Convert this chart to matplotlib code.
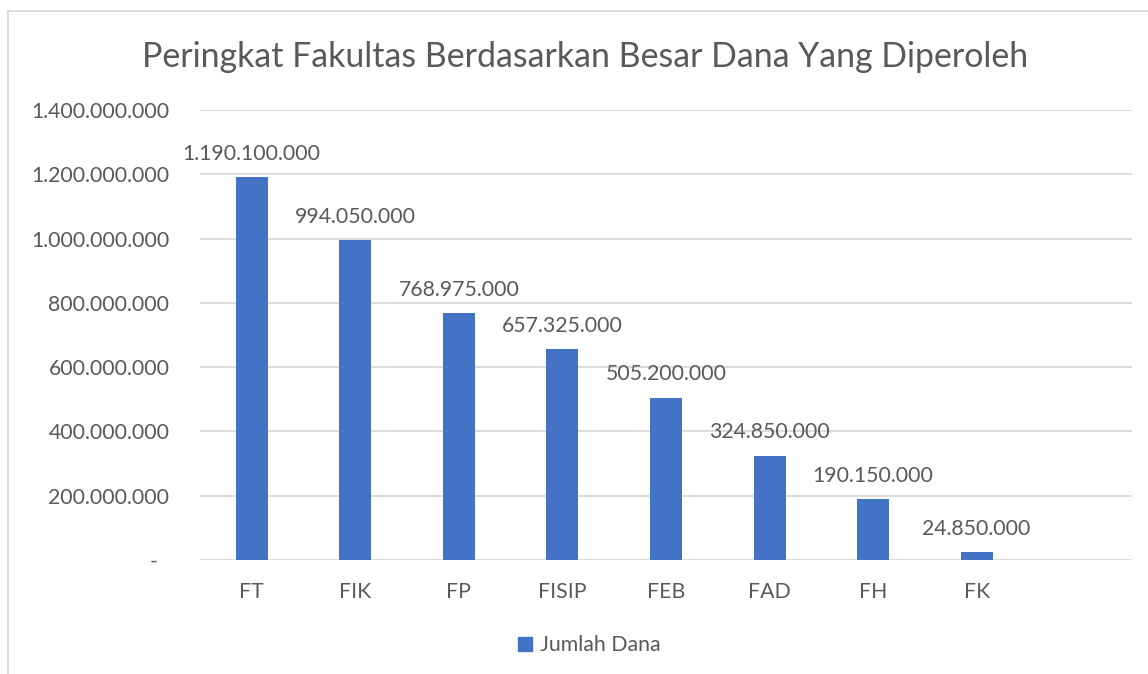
import matplotlib
matplotlib.use("Agg")
import matplotlib.pyplot as plt
from matplotlib.lines import Line2D
from matplotlib.ticker import FuncFormatter

# data
fakultas = ["FT", "FIK", "FP", "FISIP", "FEB", "FAD", "FH", "FK"]
jumlah_dana = [1190100000, 994050000, 768975000, 657325000, 505200000, 324850000, 190150000, 24850000]
y_ticks = [0, 200000000, 400000000, 600000000, 800000000, 1000000000, 1200000000, 1400000000]

FONT = "Lato"
TXT = "#595959"
GRID = "#D9D9D9"
BAR = "#4472C4"
FS = 15.3


def titik(v):
    # Excel accounting style: dots as thousand separator, zero as dash
    if v == 0:
        return "-  "
    return f"{int(v):,}".replace(",", ".")


fig = plt.figure(figsize=(11.48, 6.74), dpi=100, facecolor="white")
ax = fig.add_axes([200 / 1148, 114 / 674, 932 / 1148, 450 / 674])

x = list(range(len(fakultas)))
ax.bar(x, jumlah_dana, width=0.31, color=BAR, zorder=3)

for xi, v in zip(x, jumlah_dana):
    ax.annotate(titik(v), (xi, v), xytext=(0, 9.5), textcoords="offset points",
                ha="center", va="bottom", fontsize=FS, color=TXT, family=FONT)

ax.set_xlim(-0.5, len(fakultas) + 0.5)
ax.set_ylim(0, 1400000000)
ax.set_yticks(y_ticks)
ax.yaxis.set_major_formatter(FuncFormatter(lambda v, p: titik(v)))
ax.set_xticks(x)
ax.set_xticklabels(fakultas)

ax.grid(axis="y", color=GRID, linewidth=1.3, zorder=0)
for s in ax.spines.values():
    s.set_visible(False)
ax.tick_params(axis="both", length=0, labelsize=FS, labelcolor=TXT)
ax.tick_params(axis="y", pad=22)
ax.tick_params(axis="x", pad=16)
for lbl in ax.get_xticklabels() + ax.get_yticklabels():
    lbl.set_family(FONT)

fig.text(585 / 1148, (674 - 67) / 674, "Peringkat Fakultas Berdasarkan Besar Dana Yang Diperoleh",
         ha="center", va="baseline", fontsize=24.4, color=TXT, family=FONT)

handle = Line2D([], [], marker="s", linestyle="none", markersize=10, color=BAR)
fig.legend([handle], ["Jumlah Dana"], loc="center", bbox_to_anchor=(589 / 1148, 29 / 674),
           frameon=False, handlelength=0.8, handletextpad=0.3,
           prop={"family": FONT, "size": FS}, labelcolor=TXT)

# chart frame (only top and left edges are visible in the crop)
fig.add_artist(Line2D([8 / 1148, 8 / 1148], [0, (674 - 11) / 674], color=GRID, linewidth=1.3))
fig.add_artist(Line2D([8 / 1148, 1], [(674 - 11) / 674, (674 - 11) / 674], color=GRID, linewidth=1.3))

fig.savefig("out.png", dpi=100, facecolor="white")
